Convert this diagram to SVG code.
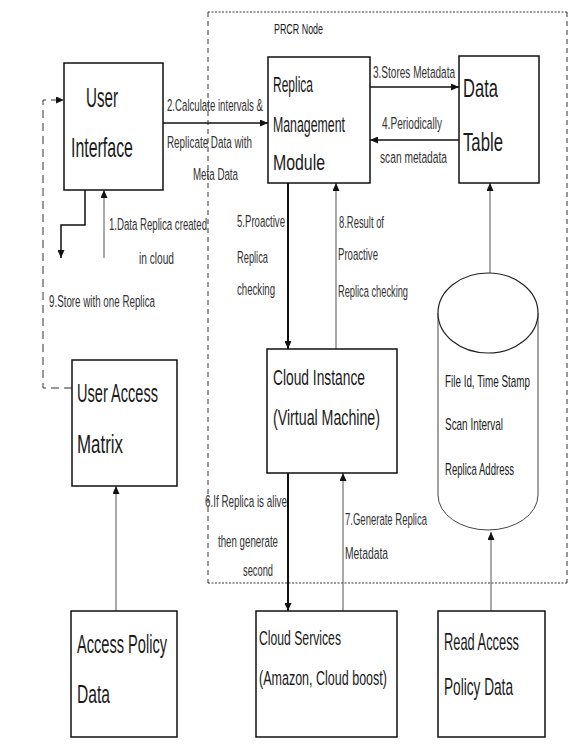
<svg xmlns="http://www.w3.org/2000/svg" width="571" height="749" viewBox="0 0 571 749">
<style>
  .box{fill:#fff;stroke:#111;stroke-width:1.5}
  .t{font-family:"Liberation Sans",Arial,sans-serif;fill:#1a1a1a}
  .lbl{font-family:"Liberation Sans",Arial,sans-serif;fill:#333;font-size:17px}
  .blk{fill:none;stroke:#111;stroke-width:1.5}
  .thk{fill:none;stroke:#111;stroke-width:2}
  .gry{fill:none;stroke:#555;stroke-width:1}
  .dsh{fill:none;stroke:#333;stroke-width:1}
</style>
<defs>
  <marker id="ah" markerUnits="userSpaceOnUse" markerWidth="8" markerHeight="7" refX="8" refY="3.5" orient="auto">
    <path d="M0,0 L8,3.5 L0,7 z" fill="#111"/>
  </marker>
</defs>
<rect width="571" height="749" fill="#fff"/>

<g id="prcr-node">
  <line class="dsh" x1="208" y1="12" x2="567" y2="12" stroke-dasharray="2 1.5"/>
  <line class="dsh" x1="208" y1="583" x2="567" y2="583" stroke-dasharray="2 1.5"/>
  <line class="dsh" x1="208" y1="12" x2="208" y2="583" stroke-dasharray="5 4"/>
  <line class="dsh" x1="567" y1="12" x2="567" y2="583" stroke-dasharray="5 4"/>
  <text class="t" transform="scale(0.6,1)" x="456.67" y="34" font-size="15" textLength="81.67" lengthAdjust="spacingAndGlyphs">PRCR Node</text>
</g>

<g id="connectors">
  <path class="blk" d="M163,123 H268" marker-end="url(#ah)"/>
  <path class="blk" d="M370,87 H459" marker-end="url(#ah)"/>
  <path class="blk" d="M459,140 H370" marker-end="url(#ah)"/>
  <path class="thk" d="M288,183 V349" marker-end="url(#ah)"/>
  <path class="gry" d="M336,349 V183" marker-end="url(#ah)"/>
  <path class="thk" d="M288,473 V611" marker-end="url(#ah)"/>
  <path class="gry" d="M343,611 V473" marker-end="url(#ah)"/>
  <path class="gry" d="M490,273 V183" marker-end="url(#ah)"/>
  <path class="gry" d="M491,611 V532" marker-end="url(#ah)"/>
  <path class="gry" d="M116,611 V486" stroke-width="1.5" marker-end="url(#ah)"/>
  <path class="gry" d="M104,258 V190" marker-end="url(#ah)"/>
  <path class="blk" d="M85,190 V225 H61 V258" marker-end="url(#ah)"/>
  <path class="dsh" d="M72,388 H43 V100 H64" stroke-dasharray="8 5" marker-end="url(#ah)"/>
  <text class="lbl" transform="scale(0.6,1)" x="278.33" y="111" textLength="160" lengthAdjust="spacingAndGlyphs">2.Calculate intervals &amp;</text>
  <text class="lbl" transform="scale(0.6,1)" x="278.33" y="148" textLength="141.67" lengthAdjust="spacingAndGlyphs">Replicate Data with</text>
  <text class="lbl" transform="scale(0.6,1)" x="321.67" y="180" textLength="75" lengthAdjust="spacingAndGlyphs">Meta Data</text>
  <text class="lbl" transform="scale(0.6,1)" x="621.67" y="78" textLength="136.67" lengthAdjust="spacingAndGlyphs">3.Stores Metadata</text>
  <text class="lbl" transform="scale(0.6,1)" x="636.67" y="129" textLength="100" lengthAdjust="spacingAndGlyphs">4.Periodically</text>
  <text class="lbl" transform="scale(0.6,1)" x="633.33" y="163" textLength="111.67" lengthAdjust="spacingAndGlyphs">scan metadata</text>
  <text class="lbl" transform="scale(0.6,1)" x="181.67" y="230" textLength="163.33" lengthAdjust="spacingAndGlyphs">1.Data Replica created</text>
  <text class="lbl" transform="scale(0.6,1)" x="231.67" y="264" textLength="58.33" lengthAdjust="spacingAndGlyphs">in cloud</text>
  <text class="lbl" transform="scale(0.6,1)" x="81.67" y="307" textLength="176.67" lengthAdjust="spacingAndGlyphs">9.Store with one Replica</text>
  <text class="lbl" transform="scale(0.6,1)" x="395" y="227" textLength="80" lengthAdjust="spacingAndGlyphs">5.Proactive</text>
  <text class="lbl" transform="scale(0.6,1)" x="395" y="263" textLength="51.67" lengthAdjust="spacingAndGlyphs">Replica</text>
  <text class="lbl" transform="scale(0.6,1)" x="395" y="295" textLength="63.33" lengthAdjust="spacingAndGlyphs">checking</text>
  <text class="lbl" transform="scale(0.6,1)" x="565" y="228" textLength="75" lengthAdjust="spacingAndGlyphs">8.Result of</text>
  <text class="lbl" transform="scale(0.6,1)" x="563.33" y="260" textLength="66.67" lengthAdjust="spacingAndGlyphs">Proactive</text>
  <text class="lbl" transform="scale(0.6,1)" x="563.33" y="297" textLength="116.67" lengthAdjust="spacingAndGlyphs">Replica checking</text>
  <text class="lbl" transform="scale(0.6,1)" x="341.67" y="507" textLength="136.67" lengthAdjust="spacingAndGlyphs">6.If Replica is  alive</text>
  <text class="lbl" transform="scale(0.6,1)" x="363.33" y="547" textLength="100" lengthAdjust="spacingAndGlyphs">then generate</text>
  <text class="lbl" transform="scale(0.6,1)" x="405" y="576" textLength="50" lengthAdjust="spacingAndGlyphs">second</text>
  <text class="lbl" transform="scale(0.6,1)" x="575" y="525" textLength="136.67" lengthAdjust="spacingAndGlyphs">7.Generate Replica</text>
  <text class="lbl" transform="scale(0.6,1)" x="575" y="559" textLength="71.67" lengthAdjust="spacingAndGlyphs">Metadata</text>
</g>

<g id="user-interface">
  <rect class="box" x="64" y="63" width="99" height="127"/>
  <text class="t" transform="scale(0.6,1)" x="143.33" y="107" font-size="28" textLength="53.33" lengthAdjust="spacingAndGlyphs">User</text>
  <text class="t" transform="scale(0.6,1)" x="118.33" y="157" font-size="27" textLength="103.33" lengthAdjust="spacingAndGlyphs">Interface</text>
</g>

<g id="replica-management-module">
  <rect class="box" x="268" y="57" width="102" height="126"/>
  <text class="t" transform="scale(0.6,1)" x="455" y="92" font-size="22" textLength="66.67" lengthAdjust="spacingAndGlyphs">Replica</text>
  <text class="t" transform="scale(0.6,1)" x="455" y="132" font-size="22" textLength="120" lengthAdjust="spacingAndGlyphs">Management</text>
  <text class="t" transform="scale(0.6,1)" x="455" y="170" font-size="22" textLength="86.67" lengthAdjust="spacingAndGlyphs">Module</text>
</g>

<g id="data-table">
  <rect class="box" x="459" y="56" width="80" height="127"/>
  <text class="t" transform="scale(0.6,1)" x="771.67" y="97" font-size="25" textLength="58.33" lengthAdjust="spacingAndGlyphs">Data</text>
  <text class="t" transform="scale(0.6,1)" x="771.67" y="151" font-size="25" textLength="66.67" lengthAdjust="spacingAndGlyphs">Table</text>
</g>

<g id="metadata-store">
  <path d="M438,313 V495 A50,35 0 0 0 538,495 V313" fill="#fff" stroke="#444" stroke-width="1"/>
  <ellipse cx="488" cy="313" rx="50" ry="40" fill="#fff" stroke="#222" stroke-width="1.2"/>
  <text class="t" transform="scale(0.6,1)" x="741.67" y="387" font-size="16" textLength="141.67" lengthAdjust="spacingAndGlyphs">File Id, Time Stamp</text>
  <text class="t" transform="scale(0.6,1)" x="741.67" y="430" font-size="16" textLength="96.67" lengthAdjust="spacingAndGlyphs">Scan Interval</text>
  <text class="t" transform="scale(0.6,1)" x="741.67" y="475" font-size="16" textLength="115" lengthAdjust="spacingAndGlyphs">Replica Address</text>
</g>

<g id="cloud-instance">
  <rect class="box" x="267" y="349" width="130" height="124"/>
  <text class="t" transform="scale(0.6,1)" x="455" y="385" font-size="22" textLength="153.33" lengthAdjust="spacingAndGlyphs">Cloud Instance</text>
  <text class="t" transform="scale(0.6,1)" x="455" y="425" font-size="22" textLength="178.33" lengthAdjust="spacingAndGlyphs">(Virtual Machine)</text>
</g>

<g id="user-access-matrix">
  <rect class="box" x="72" y="360" width="105" height="126"/>
  <text class="t" transform="scale(0.6,1)" x="128.33" y="402" font-size="25" textLength="135" lengthAdjust="spacingAndGlyphs">User Access</text>
  <text class="t" transform="scale(0.6,1)" x="128.33" y="453" font-size="25" textLength="76.67" lengthAdjust="spacingAndGlyphs">Matrix</text>
</g>

<g id="access-policy-data">
  <rect class="box" x="71" y="611" width="106" height="126"/>
  <text class="t" transform="scale(0.6,1)" x="128.33" y="653" font-size="25" textLength="150" lengthAdjust="spacingAndGlyphs">Access Policy</text>
  <text class="t" transform="scale(0.6,1)" x="128.33" y="703" font-size="25" textLength="55" lengthAdjust="spacingAndGlyphs">Data</text>
</g>

<g id="cloud-services">
  <rect class="box" x="256" y="611" width="141" height="126"/>
  <text class="t" transform="scale(0.6,1)" x="431.67" y="645" font-size="20" textLength="136.67" lengthAdjust="spacingAndGlyphs">Cloud Services</text>
  <text class="t" transform="scale(0.6,1)" x="431.67" y="685" font-size="20" textLength="213.33" lengthAdjust="spacingAndGlyphs">(Amazon, Cloud boost)</text>
</g>

<g id="read-access-policy-data">
  <rect class="box" x="438" y="611" width="107" height="126"/>
  <text class="t" transform="scale(0.6,1)" x="740" y="650" font-size="24" textLength="125" lengthAdjust="spacingAndGlyphs">Read Access</text>
  <text class="t" transform="scale(0.6,1)" x="740" y="695" font-size="24" textLength="115" lengthAdjust="spacingAndGlyphs">Policy Data</text>
</g>
</svg>
